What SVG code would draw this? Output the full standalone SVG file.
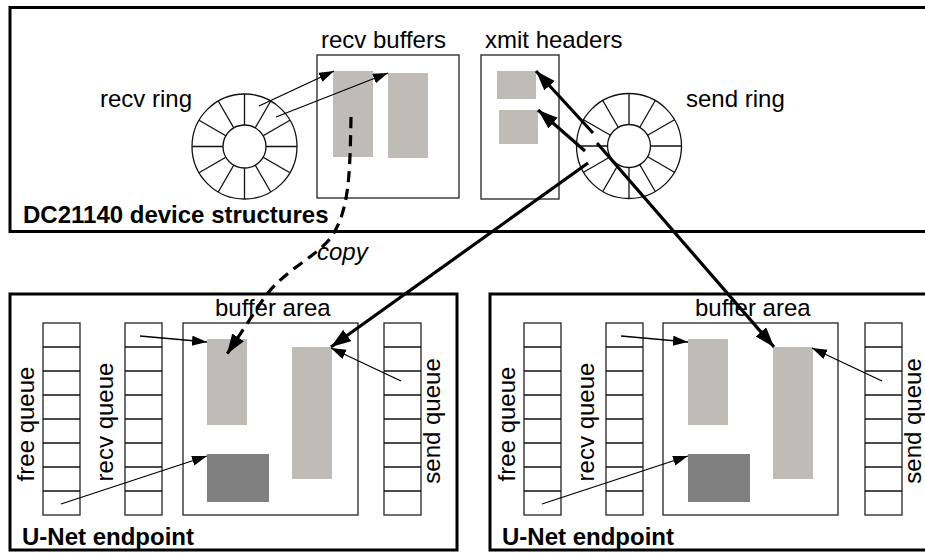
<svg xmlns="http://www.w3.org/2000/svg" xmlns:xlink="http://www.w3.org/1999/xlink" width="925" height="555" viewBox="0 0 925 555">
  <style>
    .frame { fill: none; stroke: #000; stroke-width: 3; }
    .box { fill: #fff; stroke: #222; stroke-width: 1.3; }
    .cell { stroke: #111; stroke-width: 1.3; fill: none; }
    .buf { fill: #bfbcb8; }
    .dark { fill: #808080; }
    .lbl { font-family: "Liberation Sans", Arial, sans-serif; font-size: 24px; fill: #000; }
    .title { font-family: "Liberation Sans", Arial, sans-serif; font-size: 24px; font-weight: bold; fill: #000; }
    .thin { stroke: #000; stroke-width: 1.3; fill: none; marker-end: url(#headThin); }
    .thick { stroke: #000; stroke-width: 3.2; fill: none; marker-end: url(#headThick); }
    .copy { stroke: #000; stroke-width: 3.2; fill: none; stroke-dasharray: 11 7; marker-end: url(#headThick); }
  </style>
  <defs>
    <marker id="headThin" markerUnits="userSpaceOnUse" markerWidth="16" markerHeight="12" refX="15" refY="5" orient="auto">
      <path d="M0,0 L15,5 L0,10 z" fill="#000"/>
    </marker>
    <marker id="headThick" markerUnits="userSpaceOnUse" markerWidth="22" markerHeight="16" refX="20" refY="7" orient="auto">
      <path d="M0,0 L20,7 L0,14 z" fill="#000"/>
    </marker>
    <!-- descriptor ring: 12 slots between an inner and outer circle -->
    <g id="ringShape">
      <circle r="52.5" fill="#fff" stroke="#111" stroke-width="1.3"/>
      <path d="M-52.5,0 L52.5,0 M0,-52.5 L0,52.5 M-45.47,-26.25 L45.47,26.25 M-26.25,-45.47 L26.25,45.47 M-45.47,26.25 L45.47,-26.25 M-26.25,45.47 L26.25,-45.47" stroke="#111" stroke-width="1.3"/>
      <circle r="21.5" fill="#fff" stroke="#111" stroke-width="1.3"/>
    </g>
  </defs>

  <rect width="925" height="555" fill="#fff"/>

  <!-- DC21140 device structures -->
  <g id="device">
    <rect class="frame" x="10" y="7.5" width="930" height="224"/>
    <text class="title" x="23" y="223">DC21140 device structures</text>
  </g>

  <g id="recv-ring">
    <use xlink:href="#ringShape" transform="translate(244.5,146.5)"/>
    <text class="lbl" x="100" y="107">recv ring</text>
  </g>

  <g id="recv-buffers">
    <rect class="box" x="317" y="55" width="142" height="143"/>
    <rect class="buf" x="333" y="71" width="40" height="86"/>
    <rect class="buf" x="388" y="73" width="40" height="85"/>
    <text class="lbl" x="321" y="48">recv buffers</text>
  </g>

  <g id="xmit-headers">
    <rect class="box" x="481" y="55" width="78" height="144"/>
    <rect class="buf" x="497" y="71" width="39" height="28"/>
    <rect class="buf" x="499" y="110" width="39" height="34"/>
    <text class="lbl" x="485" y="48">xmit headers</text>
  </g>

  <g id="send-ring">
    <use xlink:href="#ringShape" transform="translate(629,146)"/>
    <text class="lbl" x="686" y="107">send ring</text>
  </g>

  <!-- U-Net endpoint (left) -->
  <g id="endpoint-left">
    <rect class="frame" x="10" y="294" width="447" height="256"/>
    <rect class="box" x="43" y="323" width="37" height="192"/>
    <path class="cell" d="M43,347 H80 M43,371 H80 M43,395 H80 M43,419 H80 M43,443 H80 M43,467 H80 M43,491 H80"/>
    <text class="lbl" transform="translate(34,424) rotate(-90)" text-anchor="middle">free queue</text>
    <rect class="box" x="125" y="323" width="37" height="192"/>
    <path class="cell" d="M125,347 H162 M125,371 H162 M125,395 H162 M125,419 H162 M125,443 H162 M125,467 H162 M125,491 H162"/>
    <text class="lbl" transform="translate(113,422) rotate(-90)" text-anchor="middle">recv queue</text>
    <rect class="box" x="183" y="323" width="175" height="192"/>
    <rect class="buf" x="207" y="339" width="40" height="86"/>
    <rect class="buf" x="292" y="347" width="40" height="132"/>
    <rect class="dark" x="207" y="454" width="62" height="48"/>
    <text class="lbl" x="215" y="316">buffer area</text>
    <rect class="box" x="384" y="323" width="37" height="192"/>
    <path class="cell" d="M384,347 H421 M384,371 H421 M384,395 H421 M384,419 H421 M384,443 H421 M384,467 H421 M384,491 H421"/>
    <text class="lbl" transform="translate(440,421) rotate(-90)" text-anchor="middle">send queue</text>
    <text class="title" x="22" y="545">U-Net endpoint</text>
  </g>

  <!-- U-Net endpoint (right) -->
  <g id="endpoint-right">
    <rect class="frame" x="490" y="294" width="450" height="256"/>
    <rect class="box" x="524" y="323" width="37" height="192"/>
    <path class="cell" d="M524,347 H561 M524,371 H561 M524,395 H561 M524,419 H561 M524,443 H561 M524,467 H561 M524,491 H561"/>
    <text class="lbl" transform="translate(515,424) rotate(-90)" text-anchor="middle">free queue</text>
    <rect class="box" x="606" y="323" width="37" height="192"/>
    <path class="cell" d="M606,347 H643 M606,371 H643 M606,395 H643 M606,419 H643 M606,443 H643 M606,467 H643 M606,491 H643"/>
    <text class="lbl" transform="translate(594,422) rotate(-90)" text-anchor="middle">recv queue</text>
    <rect class="box" x="663" y="323" width="175" height="192"/>
    <rect class="buf" x="688" y="339" width="40" height="86"/>
    <rect class="buf" x="773" y="347" width="40" height="132"/>
    <rect class="dark" x="688" y="454" width="62" height="48"/>
    <text class="lbl" x="695" y="316">buffer area</text>
    <rect class="box" x="865" y="323" width="37" height="192"/>
    <path class="cell" d="M865,347 H902 M865,371 H902 M865,395 H902 M865,419 H902 M865,443 H902 M865,467 H902 M865,491 H902"/>
    <text class="lbl" transform="translate(921,421) rotate(-90)" text-anchor="middle">send queue</text>
    <text class="title" x="502" y="545">U-Net endpoint</text>
  </g>

  <!-- connectors -->
  <g id="connectors">
    <!-- recv ring slots to recv buffers -->
    <line class="thin" x1="259" y1="106" x2="334" y2="71"/>
    <line class="thin" x1="276" y1="117" x2="388" y2="73"/>
    <!-- send ring slots to xmit headers -->
    <line class="thick" x1="593" y1="133" x2="536" y2="71"/>
    <line class="thick" x1="585" y1="151" x2="538" y2="110"/>
    <!-- send ring slots to endpoint buffers -->
    <line class="thick" x1="588" y1="163" x2="331" y2="347"/>
    <line class="thick" x1="597" y1="143" x2="774" y2="347"/>
    <!-- copy from recv buffer to endpoint buffer -->
    <path class="copy" d="M351,117 C350,175 349,210 332,236 C316,258 286,268 264,298 L227,354"/>
    <text class="lbl" x="317" y="260" font-style="italic">copy</text>
    <!-- queue entries to buffers (left endpoint) -->
    <line class="thin" x1="140" y1="336" x2="207" y2="342"/>
    <line class="thin" x1="61" y1="504" x2="207" y2="456"/>
    <line class="thin" x1="401" y1="381" x2="331" y2="348"/>
    <!-- queue entries to buffers (right endpoint) -->
    <line class="thin" x1="621" y1="336" x2="688" y2="342"/>
    <line class="thin" x1="542" y1="504" x2="688" y2="456"/>
    <line class="thin" x1="882" y1="381" x2="812" y2="348"/>
  </g>
</svg>
